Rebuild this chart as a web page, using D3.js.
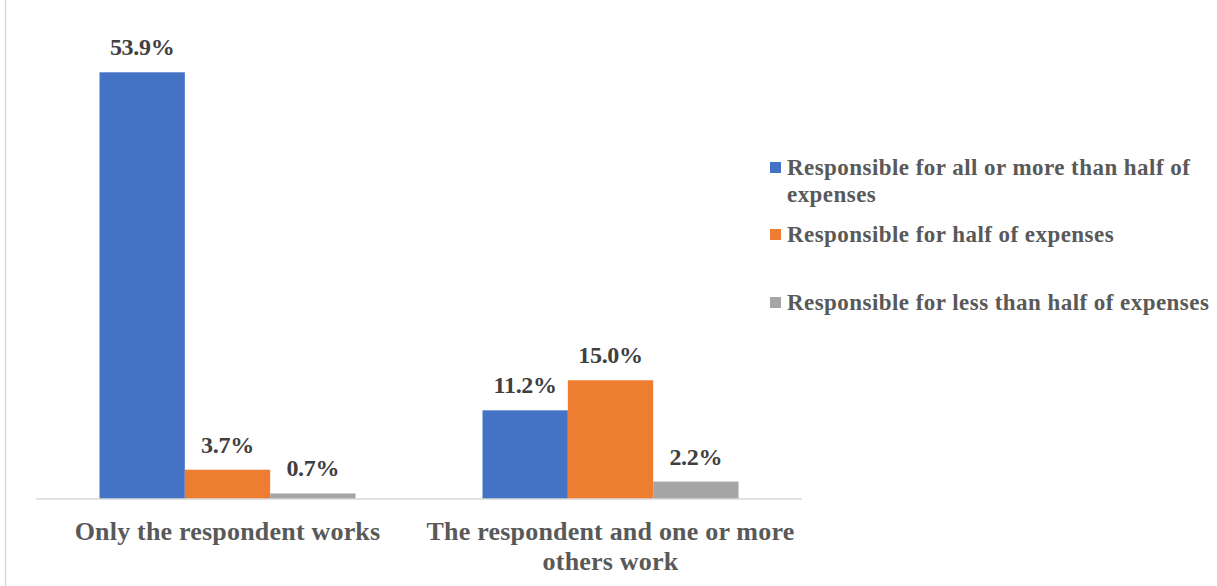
<!DOCTYPE html>
<html>
<head>
<meta charset="utf-8">
<script src="https://cdn.jsdelivr.net/npm/d3@7"></script>
<style>
  html, body { margin: 0; padding: 0; background: #fff; }
  svg { display: block; }
</style>
</head>
<body>
<svg id="chart" width="1217" height="586"></svg>
<script>
// Share of working respondents by household expense responsibility
const categories = [
  ["Only the respondent works"],
  ["The respondent and one or more", "others work"]
];
const seriesNames = [
  ["Responsible for all or more than half of", "expenses"],
  ["Responsible for half of expenses"],
  ["Responsible for less than half of expenses"]
];
const seriesColors = ["#4472C4", "#ED7D31", "#A5A5A5"];
const allOrMoreThanHalf = [53.9, 11.2];
const halfOfExpenses = [3.7, 15.0];
const lessThanHalf = [0.7, 2.2];
const seriesValues = [allOrMoreThanHalf, halfOfExpenses, lessThanHalf];

const svg = d3.select("#chart");
const font = "'Liberation Serif', 'Times New Roman', serif";

// chart frame edge
svg.append("line")
  .attr("x1", 5.5).attr("x2", 5.5).attr("y1", 0).attr("y2", 586)
  .attr("stroke", "#d9d9d9").attr("stroke-width", 1.5);

const plot = { left: 36, right: 802, top: 24, bottom: 499 };

const x0 = d3.scaleBand()
  .domain(d3.range(categories.length))
  .range([plot.left, plot.right])
  .paddingInner(0.3316)
  .paddingOuter(0.1658);

const x1 = d3.scaleBand()
  .domain(d3.range(seriesValues.length))
  .range([0, x0.bandwidth()]);

const y = d3.scaleLinear().domain([0, 60]).range([plot.bottom, plot.top]);

// bars
const groups = svg.append("g").selectAll("g")
  .data(categories.map((c, i) => i))
  .join("g")
  .attr("transform", i => `translate(${x0(i)},0)`);

groups.selectAll("rect")
  .data(i => seriesValues.map((vals, s) => ({ s, v: vals[i] })))
  .join("rect")
  .attr("x", d => x1(d.s))
  .attr("width", x1.bandwidth())
  .attr("y", d => y(d.v))
  .attr("height", d => y(0) - y(d.v))
  .attr("fill", d => seriesColors[d.s]);

groups.selectAll("text")
  .data(i => seriesValues.map((vals, s) => ({ s, v: vals[i] })))
  .join("text")
  .attr("x", d => x1(d.s) + x1.bandwidth() / 2)
  .attr("y", d => y(d.v) - 17)
  .attr("text-anchor", "middle")
  .attr("font-family", font)
  .attr("font-weight", "bold")
  .attr("font-size", 24)
  .attr("letter-spacing", -0.3)
  .attr("fill", "#404040")
  .text(d => d.v.toFixed(1) + "%");

// category axis baseline
const xAxis = d3.axisBottom(x0).tickSize(0).tickFormat("");
const axisG = svg.append("g")
  .attr("transform", `translate(0,${plot.bottom})`)
  .call(xAxis);
axisG.select(".domain").attr("stroke", "#d9d9d9").attr("stroke-width", 1.5)
  .attr("d", `M${plot.left},0H${plot.right}`);

// category labels
svg.append("g").selectAll("text")
  .data(categories.map((lines, i) => ({ lines, i })))
  .join("text")
  .attr("text-anchor", "middle")
  .attr("font-family", font)
  .attr("font-weight", "bold")
  .attr("font-size", 26)
  .attr("fill", "#595959")
  .attr("letter-spacing", 0.2)
  .each(function (d) {
    const cx = x0(d.i) + x0.bandwidth() / 2;
    d3.select(this).selectAll("tspan")
      .data(d.lines)
      .join("tspan")
      .attr("x", cx)
      .attr("y", (l, k) => 540 + k * 30)
      .text(l => l);
  });

// legend
const legendRows = [175, 242, 310];
const legend = svg.append("g");
seriesNames.forEach((lines, s) => {
  legend.append("rect")
    .attr("x", 770).attr("y", legendRows[s] - 13)
    .attr("width", 11).attr("height", 11)
    .attr("fill", seriesColors[s]);
  const t = legend.append("text")
    .attr("font-family", font)
    .attr("font-weight", "bold")
    .attr("font-size", 23)
    .attr("fill", "#595959")
    .attr("letter-spacing", 0.45);
  lines.forEach((l, k) => {
    t.append("tspan").attr("x", 787).attr("y", legendRows[s] + k * 27).text(l);
  });
});
</script>
</body>
</html>
